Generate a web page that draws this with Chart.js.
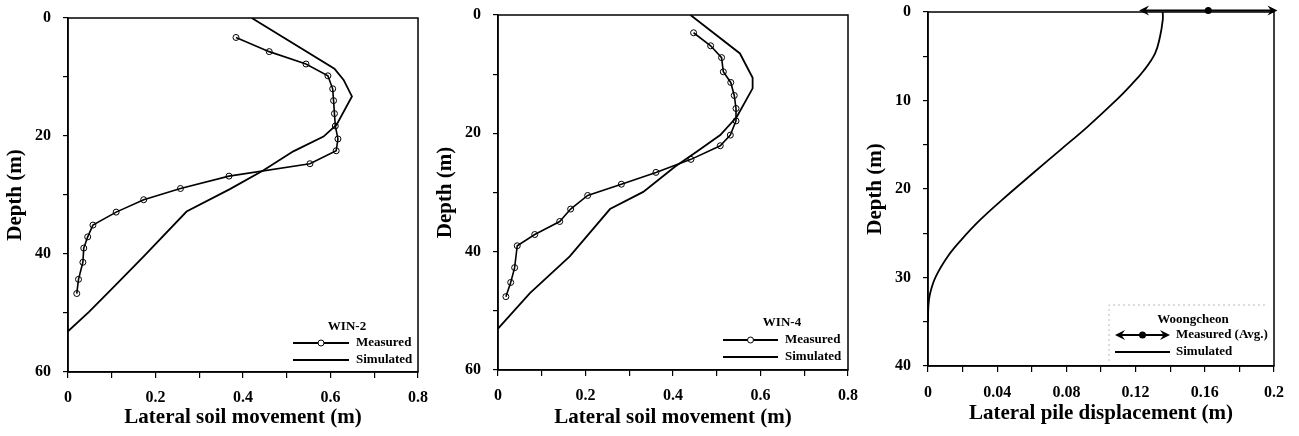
<!DOCTYPE html>
<html>
<head>
<meta charset="utf-8">
<script src="https://cdn.jsdelivr.net/npm/chart.js@4.4.0/dist/chart.umd.min.js"></script>
<style>
  html, body { margin: 0; padding: 0; background: #fff; }
  #wrap { position: relative; width: 1299px; height: 436px; overflow: hidden; }
  .panel { position: absolute; top: 0; height: 436px; }
</style>
</head>
<body>
<div id="wrap">
  <div class="panel" style="left:0;width:430px"><canvas id="c1" width="430" height="436"></canvas></div>
  <div class="panel" style="left:430px;width:430px"><canvas id="c2" width="430" height="436"></canvas></div>
  <div class="panel" style="left:860px;width:439px"><canvas id="c3" width="439" height="436"></canvas></div>
</div>
<script>
/* ── DATA ─────────────────────────────────────────────────── */
// WIN-2 (lateral soil movement, m  vs  depth, m)
const win2MeasX     = [0.384, 0.460, 0.544, 0.594, 0.605, 0.607, 0.609, 0.611, 0.617, 0.613, 0.553, 0.368, 0.257, 0.173, 0.110, 0.057, 0.045, 0.036, 0.034, 0.024, 0.020];
const win2MeasDepth = [3.3, 5.7, 7.8, 9.8, 12.0, 14.0, 16.2, 18.3, 20.5, 22.5, 24.7, 26.8, 28.9, 30.8, 32.9, 35.1, 37.1, 39.0, 41.4, 44.3, 46.7];
const win2SimX      = [0.420, 0.609, 0.630, 0.649, 0.614, 0.584, 0.515, 0.447, 0.370, 0.271, 0.172, 0.103, 0.048, 0];
const win2SimDepth  = [0, 8.6, 10.5, 13.3, 18.1, 20.1, 22.6, 25.8, 29.0, 32.8, 40.5, 45.7, 49.8, 53.1];

// WIN-4
const win4MeasX     = [0.447, 0.486, 0.511, 0.515, 0.532, 0.540, 0.544, 0.544, 0.531, 0.508, 0.441, 0.361, 0.282, 0.205, 0.166, 0.141, 0.084, 0.044, 0.038, 0.029, 0.018];
const win4MeasDepth = [3.0, 5.2, 7.2, 9.6, 11.4, 13.6, 15.8, 17.9, 20.3, 22.1, 24.4, 26.6, 28.6, 30.5, 32.8, 34.9, 37.1, 39.0, 42.7, 45.2, 47.6];
const win4SimX      = [0.440, 0.553, 0.582, 0.582, 0.546, 0.508, 0.454, 0.405, 0.332, 0.256, 0.164, 0.073, 0];
const win4SimDepth  = [0, 6.5, 10.6, 12.4, 17.2, 20.3, 23.1, 25.6, 29.9, 32.8, 40.8, 47.0, 53.0];

// Woongcheon pile (lateral pile displacement, m)
const pileSimX      = [0.1357, 0.1357, 0.1341, 0.1312, 0.1244, 0.1176, 0.1091, 0.0920, 0.0764, 0.0620, 0.0430, 0.0301, 0.0190, 0.0115, 0.0045, 0.0012, 0.0002, 0];
const pileSimDepth  = [0, 0.9, 2.8, 4.7, 6.7, 8.2, 9.9, 13.0, 15.6, 18.0, 21.2, 23.5, 25.8, 27.6, 29.9, 31.8, 33.3, 35.0];
const pileMeasAvg   = [0.162];
const pileMeasMin   = [0.122];
const pileMeasMax   = [0.202];
const pileMeasDepth = [0];

// labelled tick values
const soilTicks      = [0, 0.2, 0.4, 0.6, 0.8];
const soilDepthTicks = [0, 20, 40, 60];
const pileTicks      = [0, 0.04, 0.08, 0.12, 0.16, 0.2];
const pileDepthTicks = [0, 10, 20, 30, 40];

/* ── HELPERS ──────────────────────────────────────────────── */
const serif = '"Liberation Serif", "Times New Roman", serif';
const pts = (xs, ys) => xs.map((x, i) => ({ x, y: ys[i] }));
const labelIf = list => v => list.some(t => Math.abs(t - v) < 1e-9) ? String(+v.toFixed(2)) : '';

function arrowHead(ctx, x, y, dir) {
  ctx.beginPath();
  ctx.moveTo(x, y);
  ctx.lineTo(x - dir * 10, y - 5);
  ctx.lineTo(x - dir * 6.5, y);
  ctx.lineTo(x - dir * 10, y + 5);
  ctx.closePath();
  ctx.fill();
}

function rangeArrow(ctx, xl, xr, xm, y) {
  ctx.lineWidth = 1.8;
  ctx.beginPath(); ctx.moveTo(xl + 4, y); ctx.lineTo(xr - 4, y); ctx.stroke();
  arrowHead(ctx, xl, y, -1);
  arrowHead(ctx, xr, y, 1);
  ctx.beginPath(); ctx.arc(xm, y, 3.5, 0, Math.PI * 2); ctx.fill();
}

/* ── PLUGINS ──────────────────────────────────────────────── */
const frame = {
  id: 'frame',
  afterDatasetsDraw(chart) {
    const { ctx, chartArea: a } = chart;
    ctx.save();
    ctx.strokeStyle = '#000';
    ctx.lineWidth = 1.5;
    ctx.strokeRect(a.left, a.top, a.right - a.left, a.bottom - a.top);
    ctx.restore();
  }
};

const keyBox = {
  id: 'keyBox',
  afterDraw(chart, args, o) {
    if (!o.title) return;
    const { ctx, chartArea: a } = chart;
    const s0 = a.right + o.symLeft, s1 = a.right + o.symRight, tx = a.right + o.textLeft;
    ctx.save();
    ctx.fillStyle = '#000';
    ctx.strokeStyle = '#000';
    ctx.font = 'bold 13px ' + serif;
    ctx.textBaseline = 'middle';
    if (o.box) {
      ctx.strokeStyle = '#bbb'; ctx.lineWidth = 1; ctx.setLineDash([2, 3]);
      ctx.beginPath();
      ctx.moveTo(s0 - 6, a.bottom - 5);
      ctx.lineTo(s0 - 6, a.bottom + o.boxTop);
      ctx.lineTo(a.right - 8, a.bottom + o.boxTop);
      ctx.stroke();
      ctx.setLineDash([]); ctx.strokeStyle = '#000';
    }
    ctx.textAlign = 'center';
    ctx.fillText(o.title, a.right + o.titleX, a.bottom + o.titleY);
    ctx.textAlign = 'left';
    o.items.forEach((it, i) => {
      const y = a.bottom + o.rowY[i];
      if (it.kind === 'arrow') {
        rangeArrow(ctx, s0, s1, (s0 + s1) / 2, y);
      } else {
        ctx.lineWidth = 1.8;
        ctx.beginPath(); ctx.moveTo(s0, y); ctx.lineTo(s1, y); ctx.stroke();
        if (it.kind === 'circle') {
          ctx.lineWidth = 1;
          ctx.beginPath(); ctx.arc((s0 + s1) / 2, y, 3, 0, Math.PI * 2);
          ctx.fillStyle = '#fff'; ctx.fill(); ctx.stroke();
          ctx.fillStyle = '#000';
        }
      }
      ctx.fillText(it.label, tx, y);
    });
    ctx.restore();
  }
};

const rangeBar = {
  id: 'rangeBar',
  afterDatasetsDraw(chart) {
    const { ctx, scales: { x, y } } = chart;
    ctx.save();
    ctx.fillStyle = '#000';
    ctx.strokeStyle = '#000';
    pileMeasAvg.forEach((v, i) => {
      rangeArrow(ctx,
        x.getPixelForValue(pileMeasMin[i]),
        x.getPixelForValue(pileMeasMax[i]),
        x.getPixelForValue(v),
        y.getPixelForValue(pileMeasDepth[i]) - 1.5);
    });
    ctx.restore();
  }
};

/* ── CHART FACTORY ────────────────────────────────────────── */
function axes(p) {
  const tickFont = { family: serif, size: 16, weight: 'bold' };
  const titleFont = { family: serif, size: 21, weight: 'bold' };
  return {
    x: {
      type: 'linear', min: p.xMin, max: p.xMax,
      ticks: { stepSize: p.xStep, callback: labelIf(p.xLabels), font: tickFont, color: '#000', padding: p.xPad, maxRotation: 0, autoSkip: false },
      grid: { drawOnChartArea: false, tickLength: 6, color: '#000', lineWidth: 1.2 },
      border: { color: '#000', width: 1.5 },
      title: { display: true, text: p.xTitle, font: titleFont, color: '#000', padding: { top: 0, bottom: p.xTitlePad } },
      // keep the plot box where layout.padding puts it
      afterFit: s => { s.height = p.xHeight; s.paddingLeft = 0; s.paddingRight = 0; }
    },
    y: {
      type: 'linear', reverse: true, min: p.yMin, max: p.yMax,
      ticks: { stepSize: p.yStep, callback: labelIf(p.yLabels), font: tickFont, color: '#000', padding: 12, autoSkip: false },
      grid: { drawOnChartArea: false, tickLength: 5, color: '#000', lineWidth: 1.2 },
      border: { color: '#000', width: 1.5 },
      title: { display: true, text: 'Depth (m)', font: titleFont, color: '#000', padding: { top: 3, bottom: 0 } },
      afterFit: s => { s.width = 68; s.paddingTop = 0; s.paddingBottom = 0; }
    }
  };
}

const measuredStyle = {
  borderColor: '#000', borderWidth: 1.6, pointRadius: 3, pointBorderWidth: 1,
  pointBorderColor: '#000', pointBackgroundColor: 'rgba(0,0,0,0)', tension: 0
};
const simStyle = { borderColor: '#000', borderWidth: 1.8, pointRadius: 0, tension: 0 };

function soilChart(id, mx, md, sx, sd, pad, legend) {
  return new Chart(document.getElementById(id), {
    type: 'line',
    data: {
      datasets: [
        { label: 'Measured', data: pts(mx, md), ...measuredStyle },
        { label: 'Simulated', data: pts(sx, sd), ...simStyle }
      ]
    },
    options: {
      responsive: false, animation: false,
      layout: { padding: pad },
      plugins: { legend: { display: false }, tooltip: { enabled: false }, keyBox: legend },
      scales: axes({
        xMin: 0, xMax: 0.8, xStep: 0.1, xLabels: soilTicks, xTitle: 'Lateral soil movement (m)',
        xPad: 10, xTitlePad: 6, xHeight: legend.xHeight,
        yMin: 0, yMax: 60, yStep: 10, yLabels: soilDepthTicks
      })
    },
    plugins: [frame, keyBox]
  });
}

/* ── CHARTS ───────────────────────────────────────────────── */
soilChart('c1', win2MeasX, win2MeasDepth, win2SimX, win2SimDepth,
  { top: 18, right: 12, left: 0, bottom: 0 },
  { title: 'WIN-2', titleX: -71, titleY: -45, rowY: [-29, -12], symLeft: -125, symRight: -69, textLeft: -62, xHeight: 64,
    items: [{ label: 'Measured', kind: 'circle' }, { label: 'Simulated', kind: 'line' }] });

soilChart('c2', win4MeasX, win4MeasDepth, win4SimX, win4SimDepth,
  { top: 15, right: 12, left: 0, bottom: 0 },
  { title: 'WIN-4', titleX: -66, titleY: -47, rowY: [-30, -13], symLeft: -125, symRight: -70, textLeft: -63, xHeight: 66,
    items: [{ label: 'Measured', kind: 'circle' }, { label: 'Simulated', kind: 'line' }] });

new Chart(document.getElementById('c3'), {
  type: 'line',
  data: {
    datasets: [
      { label: 'Simulated', data: pts(pileSimX, pileSimDepth), ...simStyle, tension: 0.4 }
    ]
  },
  options: {
    responsive: false, animation: false,
    layout: { padding: { top: 12, right: 25, left: 0, bottom: 0 } },
    plugins: {
      legend: { display: false }, tooltip: { enabled: false },
      keyBox: { title: 'Woongcheon', titleX: -81, titleY: -46, rowY: [-31, -14], symLeft: -159, symRight: -104, textLeft: -98,
        box: true, boxTop: -61,
        items: [{ label: 'Measured (Avg.)', kind: 'arrow' }, { label: 'Simulated', kind: 'line' }] }
    },
    scales: axes({
      xMin: 0, xMax: 0.2, xStep: 0.02, xLabels: pileTicks, xTitle: 'Lateral pile displacement (m)',
      xPad: 11, xTitlePad: 10, xHeight: 70,
      yMin: 0, yMax: 40, yStep: 5, yLabels: pileDepthTicks
    })
  },
  plugins: [frame, rangeBar, keyBox]
});
</script>
</body>
</html>
